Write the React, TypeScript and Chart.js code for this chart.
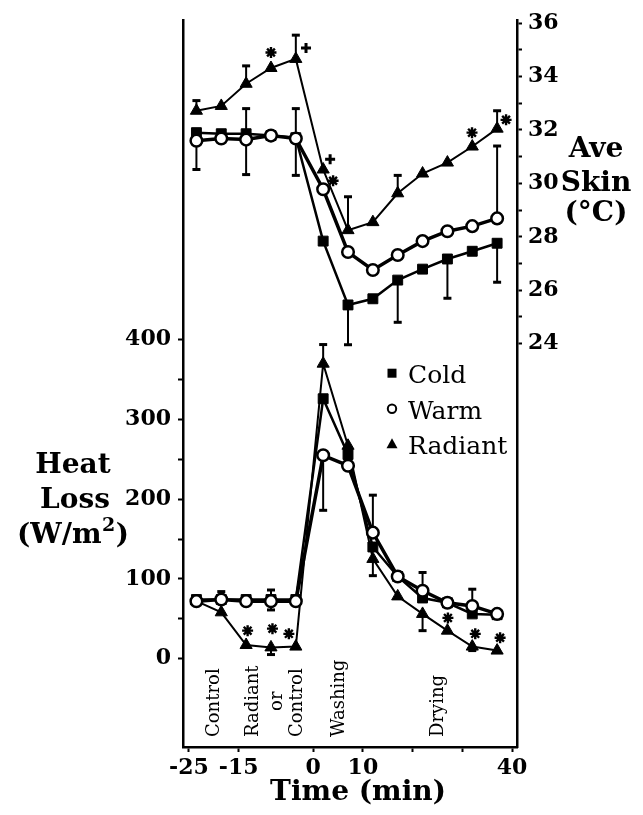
import { useEffect, useRef } from 'react';
import { Chart, registerables } from 'chart.js';

Chart.register(...registerables);

// ---- data ----
const times = [-23.5, -18.5, -13.5, -8.5, -3.5, 2, 7, 12, 17, 22, 27, 32, 37];

// Average skin temperature (°C), right axis
const skinCold = [31.9, 31.86, 31.86, 31.79, 31.71, 27.84, 25.45, 25.68, 26.38, 26.79, 27.17, 27.46, 27.76];
const skinWarm = [31.6, 31.68, 31.64, 31.79, 31.68, 29.78, 27.43, 26.76, 27.32, 27.84, 28.21, 28.4, 28.69];
const skinRadiant = [32.72, 32.9, 33.73, 34.32, 34.66, 30.52, 28.25, 28.55, 29.63, 30.37, 30.78, 31.38, 32.05];

// Heat loss (W/m2), left axis
const heatCold = [74, 74, 74, 74, 74, 326, 256, 140, 103, 76, 70, 56, 55];
const heatWarm = [72, 74, 72, 72, 72, 255, 242, 158, 103, 85, 70, 66, 56];
const heatRadiant = [72, 58, 17, 14, 15, 370, 267, 125, 78, 56, 35, 15, 10];

// error bar ends (absolute values), null = none
const skinColdHi = [null, null, null, null, null, null, null, null, null, null, null, null, null];
const skinColdLo = [null, null, null, null, null, null, 23.96, null, 24.8, null, 25.7, null, 26.3];
const skinWarmHi = [null, null, 32.8, null, 32.8, null, null, null, null, null, null, null, 31.4];
const skinWarmLo = [30.52, null, 30.33, null, 30.3, null, null, null, null, null, null, null, null];
const skinRadiantHi = [33.1, null, 34.4, null, 35.55, null, 29.5, null, 30.3, null, null, null, 32.72];
const skinRadiantLo = [null, null, null, null, null, null, null, null, null, null, null, null, null];
const heatColdHi = [null, null, null, null, null, null, null, null, null, null, null, null, null];
const heatColdLo = [null, null, null, null, null, null, null, null, null, null, null, null, null];
const heatWarmHi = [null, 84, null, 86, null, null, null, 205, null, 108, null, 87, null];
const heatWarmLo = [null, null, null, 61, null, 186, null, null, null, null, null, null, null];
const heatRadiantHi = [null, null, null, null, null, 394, null, null, null, null, null, null, null];
const heatRadiantLo = [null, null, null, 5, null, null, null, 104, null, 35, null, 10, null];

// significance symbols
const skinSigT = [-8.5, -1.45, 3.4, 4.0, 31.95, 38.8];
const skinSigV = [34.9, 35.07, 30.9, 30.1, 31.9, 32.38];
const skinSigSym = ['*', '+', '+', '*', '*', '*'];
const heatSigT = [-13.2, -8.2, -4.9, 27.1, 32.6, 37.6];
const heatSigV = [35, 37.5, 31, 51, 31, 26];
const heatSigSym = ['*', '*', '*', '*', '*', '*'];

// ticks
const xTickValues = [-25, -15, 0, 10, 20, 30, 40];
const xTickLabels = [-25, -15, 0, 10, 40];
const heatTickValues = [0, 50, 100, 150, 200, 250, 300, 350, 400];
const heatTickLabels = [0, 100, 200, 300, 400];
const skinTickValues = [24, 25, 26, 27, 28, 29, 30, 31, 32, 33, 34, 35, 36];
const skinTickLabels = [24, 26, 28, 30, 32, 34, 36];

// phase labels (rotated)
const phaseText = ['Control', 'Radiant', 'or', 'Control', 'Washing', 'Drying'];
const phaseT = [-19.8, -12.1, -7.3, -3.1, 5.2, 25.1];
const phaseCentered = [false, false, true, false, false, false];

const legendNames = ['Cold', 'Warm', 'Radiant'];

const SERIF = '"DejaVu Serif", serif';

type Num = number | null;

const errorSets: { axis: string; vals: number[]; hi: Num[]; lo: Num[] }[] = [
  { axis: 'yR', vals: skinCold, hi: skinColdHi, lo: skinColdLo },
  { axis: 'yR', vals: skinWarm, hi: skinWarmHi, lo: skinWarmLo },
  { axis: 'yR', vals: skinRadiant, hi: skinRadiantHi, lo: skinRadiantLo },
  { axis: 'yL', vals: heatCold, hi: heatColdHi, lo: heatColdLo },
  { axis: 'yL', vals: heatWarm, hi: heatWarmHi, lo: heatWarmLo },
  { axis: 'yL', vals: heatRadiant, hi: heatRadiantHi, lo: heatRadiantLo },
];

function drawSym(ctx: CanvasRenderingContext2D, sym: string, x: number, y: number) {
  ctx.save();
  ctx.strokeStyle = '#000';
  ctx.lineCap = 'butt';
  ctx.beginPath();
  if (sym === '*') {
    ctx.lineWidth = 2.4;
    const r = 5.5;
    for (let k = 0; k < 4; k++) {
      const a = (k * Math.PI) / 4;
      ctx.moveTo(x - r * Math.cos(a), y - r * Math.sin(a));
      ctx.lineTo(x + r * Math.cos(a), y + r * Math.sin(a));
    }
  } else {
    ctx.lineWidth = 3;
    const r = 5;
    ctx.moveTo(x - r, y);
    ctx.lineTo(x + r, y);
    ctx.moveTo(x, y - r);
    ctx.lineTo(x, y + r);
  }
  ctx.stroke();
  ctx.restore();
}

const annotate = {
  id: 'annotate',
  beforeDatasetsDraw(chart: any) {
    const ctx: CanvasRenderingContext2D = chart.ctx;
    const xs = chart.scales.x;
    ctx.save();
    ctx.strokeStyle = '#000';
    for (const s of errorSets) {
      const ys = chart.scales[s.axis];
      s.vals.forEach((v, i) => {
        const px = xs.getPixelForValue(times[i]);
        const py = ys.getPixelForValue(v);
        for (const end of [s.hi[i], s.lo[i]]) {
          if (end === null || end === undefined) continue;
          const ey = ys.getPixelForValue(end);
          ctx.lineWidth = 2;
          ctx.beginPath();
          ctx.moveTo(px, py);
          ctx.lineTo(px, ey);
          ctx.stroke();
          ctx.lineWidth = 3;
          ctx.beginPath();
          ctx.moveTo(px - 4, ey);
          ctx.lineTo(px + 4, ey);
          ctx.stroke();
        }
      });
    }
    ctx.restore();
  },
  afterDraw(chart: any) {
    const ctx: CanvasRenderingContext2D = chart.ctx;
    const xs = chart.scales.x;
    const yL = chart.scales.yL;
    const yR = chart.scales.yR;
    const area = chart.chartArea;
    ctx.save();
    ctx.fillStyle = '#000';

    // significance marks
    skinSigT.forEach((t, i) => drawSym(ctx, skinSigSym[i], xs.getPixelForValue(t), yR.getPixelForValue(skinSigV[i])));
    heatSigT.forEach((t, i) => drawSym(ctx, heatSigSym[i], xs.getPixelForValue(t), yL.getPixelForValue(heatSigV[i])));

    // legend
    const lx = area.left + 209;
    const ly0 = area.top + 353;
    const step = 35.5;
    legendNames.forEach((name, i) => {
      const my = ly0 + i * step;
      ctx.beginPath();
      if (i === 0) {
        ctx.fillRect(lx - 4.5, my - 4.5, 9, 9);
      } else if (i === 1) {
        ctx.lineWidth = 2;
        ctx.strokeStyle = '#000';
        ctx.arc(lx, my, 4.2, 0, Math.PI * 2);
        ctx.stroke();
      } else {
        ctx.moveTo(lx, my - 6);
        ctx.lineTo(lx + 5.5, my + 4);
        ctx.lineTo(lx - 5.5, my + 4);
        ctx.closePath();
        ctx.fill();
      }
      ctx.font = `25px ${SERIF}`;
      ctx.textAlign = 'left';
      ctx.textBaseline = 'alphabetic';
      ctx.fillText(name, lx + 16, my + 10);
    });

    // phase labels
    ctx.font = `18px ${SERIF}`;
    const baseY = area.bottom - 10;
    const radW = ctx.measureText('Radiant').width;
    phaseText.forEach((txt, i) => {
      const px = xs.getPixelForValue(phaseT[i]);
      ctx.save();
      ctx.translate(px, phaseCentered[i] ? baseY - radW / 2 : baseY);
      ctx.rotate(-Math.PI / 2);
      ctx.textAlign = phaseCentered[i] ? 'center' : 'left';
      ctx.textBaseline = 'middle';
      ctx.fillText(txt, 0, 0);
      ctx.restore();
    });

    // axis titles
    ctx.font = `bold 28px ${SERIF}`;
    ctx.textAlign = 'center';
    ctx.textBaseline = 'alphabetic';
    const hx = 73;
    ctx.fillText('Heat', hx, 473);
    ctx.fillText('Loss', hx + 2, 508);
    // (W/m²) with raised 2
    const p1 = '(W/m';
    const p3 = ')';
    ctx.font = `bold 28px ${SERIF}`;
    const w1 = ctx.measureText(p1).width;
    const w3 = ctx.measureText(p3).width;
    ctx.font = `bold 19px ${SERIF}`;
    const w2 = ctx.measureText('2').width;
    const total = w1 + w2 + w3 + 1;
    let sx = hx - total / 2;
    ctx.textAlign = 'left';
    ctx.font = `bold 28px ${SERIF}`;
    ctx.fillText(p1, sx, 543);
    sx += w1;
    ctx.font = `bold 19px ${SERIF}`;
    ctx.fillText('2', sx + 0.5, 531);
    sx += w2 + 1;
    ctx.font = `bold 28px ${SERIF}`;
    ctx.fillText(p3, sx, 543);

    ctx.textAlign = 'center';
    const rx = 596;
    ctx.fillText('Ave', rx, 157);
    ctx.fillText('Skin', rx, 191);
    ctx.fillText('(°C)', rx, 221);

    ctx.fillText('Time (min)', 358, 800);
    ctx.restore();
  },
};

export default function App() {
  const ref = useRef<HTMLCanvasElement>(null);
  useEffect(() => {
    const canvas = ref.current;
    if (!canvas) return;
    const pts = (arr: number[]) => arr.map((v, i) => ({ x: times[i], y: v }));
    const base = {
      borderColor: '#000',
      pointBorderColor: '#000',
      tension: 0,
      fill: false,
    };
    const cold = { pointStyle: 'rect', pointRadius: 7, pointBackgroundColor: '#000', pointBorderWidth: 1, borderWidth: 2.5 };
    const warm = { pointStyle: 'circle', pointRadius: 5.8, pointBackgroundColor: '#fff', pointBorderWidth: 2.5, borderWidth: 3.5 };
    const rad = { pointStyle: 'triangle', pointRadius: 7, pointBackgroundColor: '#000', pointBorderWidth: 1, borderWidth: 2 };
    const tickFont = { family: SERIF, size: 22, weight: 'bold' };

    const chart = new Chart(canvas, {
      type: 'line',
      data: {
        datasets: [
          { label: 'Warm skin', data: pts(skinWarm), yAxisID: 'yR', order: 0, ...base, ...warm },
          { label: 'Warm heat', data: pts(heatWarm), yAxisID: 'yL', order: 0, ...base, ...warm },
          { label: 'Radiant skin', data: pts(skinRadiant), yAxisID: 'yR', order: 1, ...base, ...rad },
          { label: 'Radiant heat', data: pts(heatRadiant), yAxisID: 'yL', order: 1, ...base, ...rad },
          { label: 'Cold skin', data: pts(skinCold), yAxisID: 'yR', order: 2, ...base, ...cold },
          { label: 'Cold heat', data: pts(heatCold), yAxisID: 'yL', order: 2, ...base, ...cold },
        ] as any,
      },
      options: {
        responsive: false,
        animation: false,
        events: [],
        layout: { padding: { top: 17, left: 0, right: 0, bottom: 0 } },
        plugins: { legend: { display: false }, tooltip: { enabled: false } },
        scales: {
          x: {
            type: 'linear',
            position: 'bottom',
            min: -26.2,
            max: 41,
            afterBuildTicks: (s: any) => {
              s.ticks = xTickValues.map((v) => ({ value: v }));
            },
            afterFit: (s: any) => {
              s.height = 68;
            },
            ticks: {
              autoSkip: false,
              maxRotation: 0,
              padding: 3,
              color: '#000',
              font: tickFont,
              callback: (v: any) => (xTickLabels.includes(Number(v)) ? String(v) : ''),
            },
            grid: { drawOnChartArea: false, drawTicks: true, tickLength: 5, tickColor: '#000', tickWidth: 2 },
            border: { display: true, color: '#000', width: 2.5 },
          },
          yL: {
            type: 'linear',
            position: 'left',
            min: -111,
            max: 801,
            afterBuildTicks: (s: any) => {
              s.ticks = heatTickValues.map((v) => ({ value: v }));
            },
            afterFit: (s: any) => {
              s.width = 183;
            },
            ticks: {
              autoSkip: false,
              padding: 7,
              color: '#000',
              font: tickFont,
              callback: (v: any) => (heatTickLabels.includes(Number(v)) ? String(v) : ''),
            },
            grid: { drawOnChartArea: false, drawTicks: true, tickLength: 5, tickColor: '#000', tickWidth: 2 },
            border: { display: true, color: '#000', width: 2.5 },
          },
          yR: {
            type: 'linear',
            position: 'right',
            min: 8.9,
            max: 36.11,
            afterBuildTicks: (s: any) => {
              s.ticks = skinTickValues.map((v) => ({ value: v }));
            },
            afterFit: (s: any) => {
              s.width = 126;
            },
            ticks: {
              autoSkip: false,
              padding: 6,
              color: '#000',
              font: tickFont,
              callback: (v: any) => (skinTickLabels.includes(Number(v)) ? String(v) : ''),
            },
            grid: { drawOnChartArea: false, drawTicks: true, tickLength: 5, tickColor: '#000', tickWidth: 2 },
            border: { display: true, color: '#000', width: 2.5 },
          },
        },
      } as any,
      plugins: [annotate],
    });
    return () => chart.destroy();
  }, []);

  return (
    <div style={{ position: 'absolute', left: 0, top: 0, width: 643, height: 815, background: '#fff' }}>
      <canvas ref={ref} width={643} height={815} style={{ display: 'block', width: 643, height: 815 }} />
    </div>
  );
}
